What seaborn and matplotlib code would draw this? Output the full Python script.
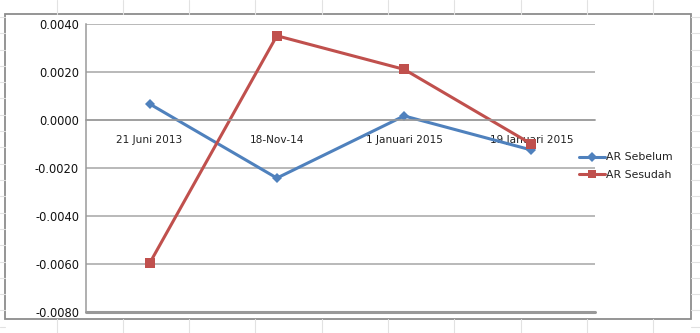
import matplotlib
matplotlib.use("Agg")
import matplotlib.pyplot as plt
import seaborn as sns
import pandas as pd
from matplotlib.lines import Line2D
from matplotlib.patches import Rectangle
from matplotlib.ticker import FixedLocator, FuncFormatter

categories = ["21 Juni 2013", "18-Nov-14", "1 Januari 2015", "19 Januari 2015"]
ar_sebelum = [0.00067, -0.00242, 0.00017, -0.00125]
ar_sesudah = [-0.00597, 0.00351, 0.00211, -0.00100]
series_names = ["AR Sebelum", "AR Sesudah"]
y_ticks = [-0.008, -0.006, -0.004, -0.002, 0.0, 0.002, 0.004]

df = pd.DataFrame({
    "Tanggal": categories * 2,
    "AR": ar_sebelum + ar_sesudah,
    "Seri": [series_names[0]] * 4 + [series_names[1]] * 4,
})

sns.set_style("white")
plt.rcParams["font.family"] = ["DejaVu Sans"]

W, H = 700, 333
fig = plt.figure(figsize=(7.0, 3.33), dpi=100)
fig.patch.set_facecolor("white")

# spreadsheet cell lines behind the chart
cell_col = "#e2e2e2"
for xp in [57, 123, 189, 255, 322, 388, 454, 521, 587, 653]:
    fig.add_artist(Line2D([xp / W, xp / W], [1 - 0 / H, 1 - 14 / H], color=cell_col, lw=0.8, transform=fig.transFigure))
    fig.add_artist(Line2D([xp / W, xp / W], [1 - 319 / H, 0], color=cell_col, lw=0.8, transform=fig.transFigure))
for i in range(21):
    yp = 17 + i * 16.3
    if yp < 333:
        fig.add_artist(Line2D([691 / W, 1], [1 - yp / H, 1 - yp / H], color=cell_col, lw=0.8, transform=fig.transFigure))
        fig.add_artist(Line2D([0, 5 / W], [1 - yp / H, 1 - yp / H], color=cell_col, lw=0.8, transform=fig.transFigure))

# chart border
fig.add_artist(Rectangle((5 / W, 1 - 319 / H), 686 / W, 305 / H, transform=fig.transFigure,
                         facecolor="white", edgecolor="#8c8c8c", lw=1.3, zorder=0))

ax = fig.add_axes([86 / W, 1 - 312 / H, 509 / W, 288 / H])
ax.set_facecolor("none")

palette = {series_names[0]: "#4F81BD", series_names[1]: "#C0504D"}
markers = {series_names[0]: "D", series_names[1]: "s"}
sns.lineplot(data=df[df["Seri"] == series_names[0]], x="Tanggal", y="AR", color=palette[series_names[0]],
             marker=markers[series_names[0]], sort=False, lw=2.2, markersize=5.5,
             markeredgewidth=0, ax=ax, legend=False)
sns.lineplot(data=df[df["Seri"] == series_names[1]], x="Tanggal", y="AR", color=palette[series_names[1]],
             marker=markers[series_names[1]], sort=False, lw=2.2, markersize=7,
             markeredgewidth=0, ax=ax, legend=False)

ax.set_xlim(-0.5, 3.5)
ax.set_ylim(-0.008, 0.004)
ax.yaxis.set_major_locator(FixedLocator(y_ticks))
ax.yaxis.set_major_formatter(FuncFormatter(lambda v, p: f"{v:.4f}"))
ax.grid(axis="y", color="#a6a6a6", lw=1.1)
ax.grid(axis="x", visible=False)
ax.set_axisbelow(True)
ax.set_xlabel("")
ax.set_ylabel("")

for s in ["top", "right"]:
    ax.spines[s].set_visible(False)
ax.spines["left"].set_color("#9a9a9a")
ax.spines["left"].set_linewidth(1.1)
ax.spines["bottom"].set_position(("data", 0))
ax.spines["bottom"].set_color("#9a9a9a")
ax.spines["bottom"].set_linewidth(1.1)
ax.axhline(-0.008, color="#999999", lw=2.2, zorder=1, clip_on=False)

ax.set_xticks(range(len(categories)))
ax.set_xticklabels(categories)
ax.set_xticks([0.5, 1.5, 2.5, 3.5], minor=True)
ax.tick_params(axis="x", which="major", length=0, pad=11, labelsize=7.6, labelcolor="#222222")
ax.tick_params(axis="x", which="minor", length=4, width=1, color="#9a9a9a", direction="out")
ax.tick_params(axis="y", length=3, width=1, color="#9a9a9a", direction="out", pad=2,
               labelsize=8.3, labelcolor="#111111")

handles = [Line2D([], [], color=palette[series_names[0]], marker="D", lw=2.2, markersize=5, markeredgewidth=0),
           Line2D([], [], color=palette[series_names[1]], marker="s", lw=2.2, markersize=6, markeredgewidth=0)]
leg = ax.legend(handles, series_names, loc="center left", bbox_to_anchor=(574 / W, 1 - 166 / H),
                bbox_transform=fig.transFigure, frameon=False, fontsize=7.8, handlelength=2.4,
                handletextpad=0.05, labelspacing=0.65, borderpad=0)
for t in leg.get_texts():
    t.set_color("#222222")

fig.savefig("out.png", dpi=100, facecolor="white")
